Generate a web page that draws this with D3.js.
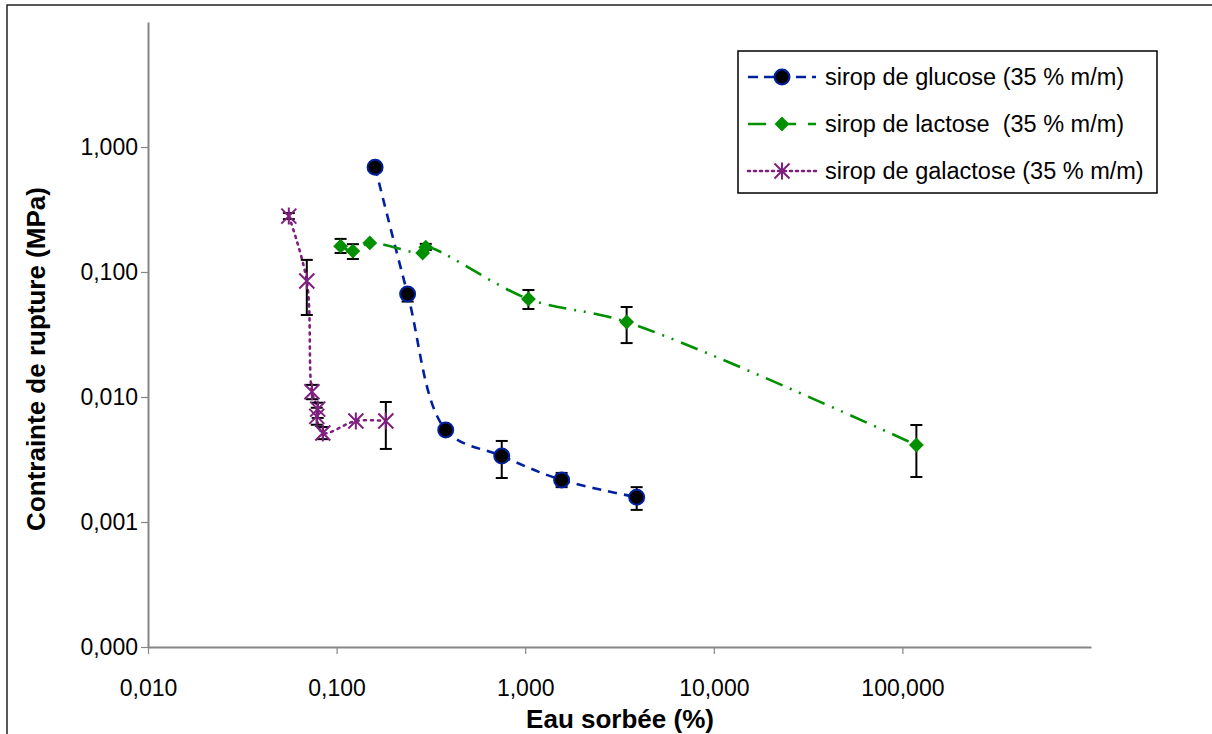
<!DOCTYPE html>
<html>
<head>
<meta charset="utf-8">
<script src="https://cdn.jsdelivr.net/npm/d3@7"></script>
<style>
  body { margin: 0; background: #fff; }
  text { font-family: "Liberation Sans", Arial, sans-serif; }
</style>
</head>
<body>
<svg id="ruptureChart" width="1212" height="734"></svg>
<script>
// ---- data ----
const xTicks = [0.01, 0.1, 1, 10, 100];
const yTicks = [0.0001, 0.001, 0.01, 0.1, 1];

const glucoseX    = [0.160, 0.238, 0.379, 0.751, 1.56, 3.90];
const glucoseY    = [0.690, 0.0667, 0.00545, 0.00337, 0.00217, 0.00158];
const glucoseLow  = [null, 0.058, null, 0.00225, 0.0019, 0.00125];
const glucoseHigh = [null, 0.072, null, 0.00445, 0.00247, 0.0019];

const lactoseX    = [0.105, 0.122, 0.150, 0.286, 0.297, 1.04, 3.45, 118.6];
const lactoseY    = [0.161, 0.147, 0.171, 0.142, 0.158, 0.0608, 0.0398, 0.00413];
const lactoseLow  = [0.142, 0.127, null, null, 0.150, 0.0506, 0.027, 0.00229];
const lactoseHigh = [0.184, 0.167, null, null, 0.168, 0.0718, 0.0525, 0.00597];

const galactoseX    = [0.0558, 0.0695, 0.074, 0.0794, 0.0785, 0.0845, 0.1265, 0.1824];
const galactoseY    = [0.280, 0.0847, 0.0110, 0.0080, 0.0070, 0.00515, 0.00643, 0.00643];
const galactoseLow  = [0.265, 0.0453, 0.0096, 0.0068, 0.0060, 0.0046, null, 0.00384];
const galactoseHigh = [0.296, 0.125, 0.0125, 0.0090, 0.0082, 0.00575, null, 0.00912];

const seriesNames = ["sirop de glucose (35 % m/m)",
                     "sirop de lactose  (35 % m/m)",
                     "sirop de galactose (35 % m/m)"];

const xTitle = "Eau sorbée (%)";
const yTitle = "Contrainte de rupture (MPa)";

/**
 * builds point objects for one series
 */
function makeSeries(xs, ys, lows, highs){
  return xs.map((x, i) => ({x: x, y: ys[i], lo: lows[i], hi: highs[i]}));
}

class rupturePage{

  constructor(){
    this.series = [
      {name: seriesNames[0], data: makeSeries(glucoseX, glucoseY, glucoseLow, glucoseHigh),
       color: "#0020a0", dash: "9,7", marker: "circle"},
      {name: seriesNames[1], data: makeSeries(lactoseX, lactoseY, lactoseLow, lactoseHigh),
       color: "#009000", dash: "18,8,2,8,2,8", marker: "diamond"},
      {name: seriesNames[2], data: makeSeries(galactoseX, galactoseY, galactoseLow, galactoseHigh),
       color: "#7f1f7f", dash: "2,5", marker: "star"}
    ];
  }

  drawMarker(g, kind, color, cx, cy){
    if(kind === "circle"){
      g.append("circle").attr("cx", cx).attr("cy", cy).attr("r", 7.5)
       .attr("fill", "#000").attr("stroke", color).attr("stroke-width", 2);
    }else if(kind === "diamond"){
      g.append("path")
       .attr("d", d3.symbol(d3.symbolSquare, 110)())
       .attr("transform", "translate(" + cx + "," + cy + ") rotate(45)")
       .attr("fill", color);
    }else{
      // asterisk: an X with a vertical bar
      let s = 7.5;
      g.append("path")
       .attr("d", "M" + (cx - s) + "," + (cy - s) + "L" + (cx + s) + "," + (cy + s)
                + "M" + (cx - s) + "," + (cy + s) + "L" + (cx + s) + "," + (cy - s)
                + "M" + cx + "," + (cy - s - 1) + "L" + cx + "," + (cy + s + 1))
       .attr("fill", "none").attr("stroke", color).attr("stroke-width", 2);
    }
  }

  drawChart(){
    let svg = d3.select("#ruptureChart");

    // outer frame (only top and left are inside the picture)
    svg.append("rect")
       .attr("x", 7).attr("y", 5).attr("width", 1260).attr("height", 800)
       .attr("fill", "none").attr("stroke", "#222").attr("stroke-width", 1.5);

    let x = d3.scaleLog().domain([0.01, 1000]).range([148, 1091]);
    let y = d3.scaleLog().domain([0.0001, 10]).range([647, 22]);

    let fr = d3.formatLocale({decimal: ",", thousands: " ", grouping: [3], currency: ["", ""]});
    let fmt = fr.format(".3f");

    // X axis
    let gx = svg.append("g")
       .attr("transform", "translate(0,647)")
       .call(d3.axisBottom(x).tickValues(xTicks).tickFormat(fmt)
               .tickSize(7).tickSizeOuter(0).tickPadding(26));
    gx.select(".domain").attr("stroke", "#868686").attr("stroke-width", 2);
    gx.selectAll(".tick line").attr("stroke", "#868686").attr("stroke-width", 1.2);
    gx.selectAll("text").attr("font-size", "23px").attr("fill", "#000");

    // Y axis
    let gy = svg.append("g")
       .attr("transform", "translate(148,0)")
       .call(d3.axisLeft(y).tickValues(yTicks).tickFormat(fmt)
               .tickSize(7).tickSizeOuter(0).tickPadding(3));
    gy.select(".domain").attr("stroke", "#868686").attr("stroke-width", 2);
    gy.selectAll(".tick line").attr("stroke", "#868686").attr("stroke-width", 1.2);
    gy.selectAll("text").attr("font-size", "23px").attr("fill", "#000");

    // axis titles
    svg.append("text")
       .attr("x", 620).attr("y", 728)
       .attr("text-anchor", "middle")
       .attr("font-size", "26px").attr("font-weight", "bold")
       .text(xTitle);
    svg.append("text")
       .attr("transform", "translate(45,359) rotate(-90)")
       .attr("text-anchor", "middle")
       .attr("font-size", "26px").attr("font-weight", "bold")
       .text(yTitle);

    let line = d3.line()
                 .x(d => x(d.x))
                 .y(d => y(d.y))
                 .curve(d3.curveCatmullRom.alpha(0.5));

    // lines
    this.series.forEach(s => {
      svg.append("path")
         .datum(s.data)
         .attr("fill", "none")
         .attr("stroke", s.color)
         .attr("stroke-width", 2.6)
         .attr("stroke-dasharray", s.dash)
         .attr("stroke-linecap", s.marker === "star" ? "round" : "butt")
         .attr("d", line);
    });

    // error bars
    this.series.forEach(s => {
      let eb = svg.append("g").attr("stroke", "#000").attr("stroke-width", 2);
      s.data.filter(d => d.lo !== null).forEach(d => {
        let cx = x(d.x);
        eb.append("line").attr("x1", cx).attr("x2", cx).attr("y1", y(d.hi)).attr("y2", y(d.lo));
        eb.append("line").attr("x1", cx - 6).attr("x2", cx + 6).attr("y1", y(d.hi)).attr("y2", y(d.hi));
        eb.append("line").attr("x1", cx - 6).attr("x2", cx + 6).attr("y1", y(d.lo)).attr("y2", y(d.lo));
      });
    });

    // markers
    this.series.forEach(s => {
      let g = svg.append("g");
      s.data.forEach(d => this.drawMarker(g, s.marker, s.color, x(d.x), y(d.y)));
    });

    // legend
    let lg = svg.append("g");
    lg.append("rect")
      .attr("x", 738).attr("y", 51).attr("width", 419).attr("height", 142)
      .attr("fill", "#fff").attr("stroke", "#000").attr("stroke-width", 1.5);
    this.series.forEach((s, i) => {
      let ly = 77 + i * 47;
      lg.append("line")
        .attr("x1", 748).attr("x2", 816).attr("y1", ly).attr("y2", ly)
        .attr("stroke", s.color).attr("stroke-width", 2.6)
        .attr("stroke-dasharray", s.marker === "star" ? "2,4" : (s.marker === "diamond" ? "18,12" : "10,6"))
        .attr("stroke-linecap", s.marker === "star" ? "round" : "butt");
      this.drawMarker(lg, s.marker, s.color, 782, ly);
      lg.append("text")
        .attr("x", 825).attr("y", ly + 8)
        .attr("font-size", "23.5px")
        .style("white-space", "pre")
        .text(s.name);
    });

  } // end of drawChart

}; // end of class

const C_thisPage = new rupturePage();
C_thisPage.drawChart();
</script>
</body>
</html>
